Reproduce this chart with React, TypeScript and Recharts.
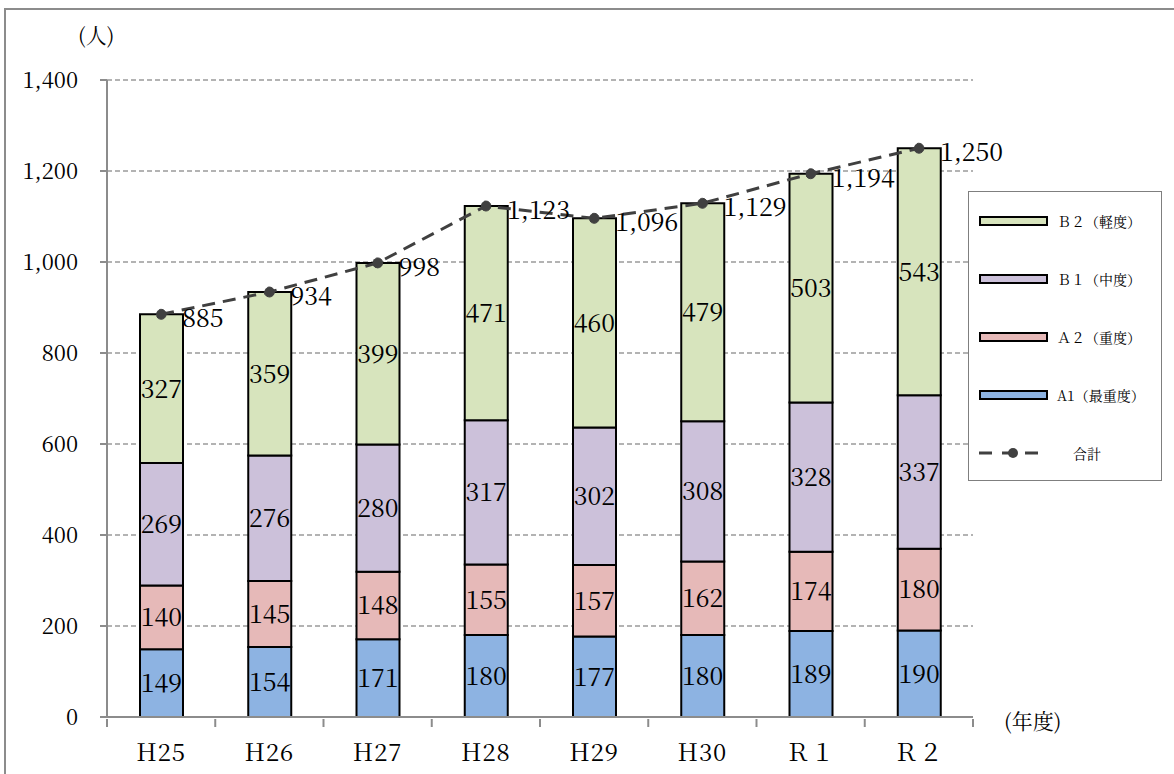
import React from "react";
import { ComposedChart, Bar, Line, XAxis, YAxis, CartesianGrid, LabelList } from "recharts";

const categories = ["H25", "H26", "H27", "H28", "H29", "H30", "Ｒ１", "Ｒ２"];
const a1 = [149, 154, 171, 180, 177, 180, 189, 190];
const a2 = [140, 145, 148, 155, 157, 162, 174, 180];
const b1 = [269, 276, 280, 317, 302, 308, 328, 337];
const b2 = [327, 359, 399, 471, 460, 479, 503, 543];
const totals = [885, 934, 998, 1123, 1096, 1129, 1194, 1250];
const yTicks = [0, 200, 400, 600, 800, 1000, 1200, 1400];

const seriesNames = {
  b2: "Ｂ２（軽度）",
  b1: "Ｂ１（中度）",
  a2: "Ａ２（重度）",
  a1: "A1（最重度）",
  total: "合計",
};
const colors = { a1: "#8DB3E2", a2: "#E6B9B8", b1: "#CCC1DA", b2: "#D7E4BD", total: "#404040" };

const data = categories.map((c, i) => ({
  name: c,
  a1: a1[i],
  a2: a2[i],
  b1: b1[i],
  b2: b2[i],
  total: totals[i],
}));

const CHART_W = 1174;
const MARGIN = { top: 80, right: 201, bottom: 17, left: 0 };
const Y_W = 107;
const FONT = "'Noto Serif CJK JP', 'Liberation Serif', serif";
const fmt = (v: number) => v.toLocaleString("en-US");

const XTick = (props: any) => {
  const { x, y, payload, index } = props;
  const plotW = CHART_W - MARGIN.left - MARGIN.right - Y_W;
  const off = plotW / categories.length / 2;
  const top = y - 6;
  return (
    <g>
      <line x1={x - off} y1={top} x2={x - off} y2={top + 8} stroke="#8c8c8c" strokeWidth={2} />
      {index === categories.length - 1 && (
        <line x1={x + off} y1={top} x2={x + off} y2={top + 8} stroke="#8c8c8c" strokeWidth={2} />
      )}
      <text
        x={x}
        y={y + 36}
        textAnchor="middle"
        style={{ fontFamily: FONT, fontSize: 24, fontWeight: 400, letterSpacing: 1 }}
        fill="#000"
      >
        {payload.value}
      </text>
    </g>
  );
};

const TotalLabel = (props: any) => {
  const { x, y, value } = props;
  return (
    <text x={x + 21} y={y + 13} style={{ fontFamily: FONT, fontSize: 25 }} fill="#000">
      {fmt(value)}
    </text>
  );
};

const legendItems = [
  { key: "b2", type: "bar" },
  { key: "b1", type: "bar" },
  { key: "a2", type: "bar" },
  { key: "a1", type: "bar" },
  { key: "total", type: "line" },
];

export default function App() {
  return (
    <div
      style={{
        position: "relative",
        width: 1174,
        height: 774,
        overflow: "hidden",
        background: "#fff",
        fontFamily: FONT,
      }}
    >
      <style>{`body{margin:0;overflow:hidden;} .recharts-wrapper, .recharts-wrapper text { font-family: ${FONT}; }`}</style>
      <div
        style={{
          position: "absolute",
          left: 4,
          top: 8,
          width: 1300,
          height: 900,
          border: "2px solid #8c8c8c",
          boxSizing: "border-box",
        }}
      />
      <div style={{ position: "absolute", left: 0, top: 0 }}>
        <ComposedChart width={CHART_W} height={774} data={data} margin={MARGIN}>
          <CartesianGrid vertical={false} stroke="#9a9a9a" strokeDasharray="5 3" strokeWidth={1.3} />
          <XAxis
            dataKey="name"
            height={40}
            axisLine={{ stroke: "#8c8c8c", strokeWidth: 2 }}
            tickLine={false}
            tick={<XTick />}
            interval={0}
          />
          <YAxis
            width={Y_W}
            domain={[0, 1400]}
            ticks={yTicks}
            tickFormatter={fmt}
            axisLine={{ stroke: "#8c8c8c", strokeWidth: 2 }}
            tickLine={{ stroke: "#8c8c8c", strokeWidth: 2 }}
            tickSize={7}
            tickMargin={22}
            tick={{ fontSize: 22, fill: "#000" }}
          />
          <Bar dataKey="a1" stackId="s" fill={colors.a1} stroke="#000" strokeWidth={2} barSize={43} isAnimationActive={false}>
            <LabelList dataKey="a1" position="center" fontSize={25} fill="#000" />
          </Bar>
          <Bar dataKey="a2" stackId="s" fill={colors.a2} stroke="#000" strokeWidth={2} barSize={43} isAnimationActive={false}>
            <LabelList dataKey="a2" position="center" fontSize={25} fill="#000" />
          </Bar>
          <Bar dataKey="b1" stackId="s" fill={colors.b1} stroke="#000" strokeWidth={2} barSize={43} isAnimationActive={false}>
            <LabelList dataKey="b1" position="center" fontSize={25} fill="#000" />
          </Bar>
          <Bar dataKey="b2" stackId="s" fill={colors.b2} stroke="#000" strokeWidth={2} barSize={43} isAnimationActive={false}>
            <LabelList dataKey="b2" position="center" fontSize={25} fill="#000" />
          </Bar>
          <Line
            dataKey="total"
            stroke={colors.total}
            strokeWidth={3}
            strokeDasharray="13 8"
            dot={{ r: 5, fill: colors.total, stroke: colors.total, strokeWidth: 1 }}
            isAnimationActive={false}
          >
            <LabelList dataKey="total" content={<TotalLabel />} />
          </Line>
        </ComposedChart>
      </div>
      <div style={{ position: "absolute", left: 78, top: 19, fontSize: 21, lineHeight: "30px" }}>(人)</div>
      <div style={{ position: "absolute", left: 1004, top: 705, fontSize: 21, lineHeight: "30px" }}>(年度)</div>
      <div
        style={{
          position: "absolute",
          left: 968,
          top: 191,
          width: 194,
          height: 290,
          border: "1.5px solid #7f7f7f",
          boxSizing: "border-box",
          background: "#fff",
        }}
      >
        {legendItems.map((it, i) => (
          <div
            key={it.key}
            style={{
              position: "absolute",
              left: 10,
              top: 19 + i * 58,
              height: 20,
              display: "flex",
              alignItems: "center",
              fontSize: 14,
              whiteSpace: "nowrap",
            }}
          >
            {it.type === "bar" ? (
              <div
                style={{
                  width: 69,
                  height: 10,
                  background: (colors as any)[it.key],
                  border: "2px solid #000",
                  boxSizing: "border-box",
                  marginRight: 9,
                }}
              />
            ) : (
              <svg width={69} height={12} style={{ marginRight: 25 }}>
                <line x1={0} y1={6} x2={69} y2={6} stroke={colors.total} strokeWidth={3} strokeDasharray="13 10" />
                <circle cx={34} cy={6} r={5} fill={colors.total} />
              </svg>
            )}
            <span>{(seriesNames as any)[it.key]}</span>
          </div>
        ))}
      </div>
    </div>
  );
}
